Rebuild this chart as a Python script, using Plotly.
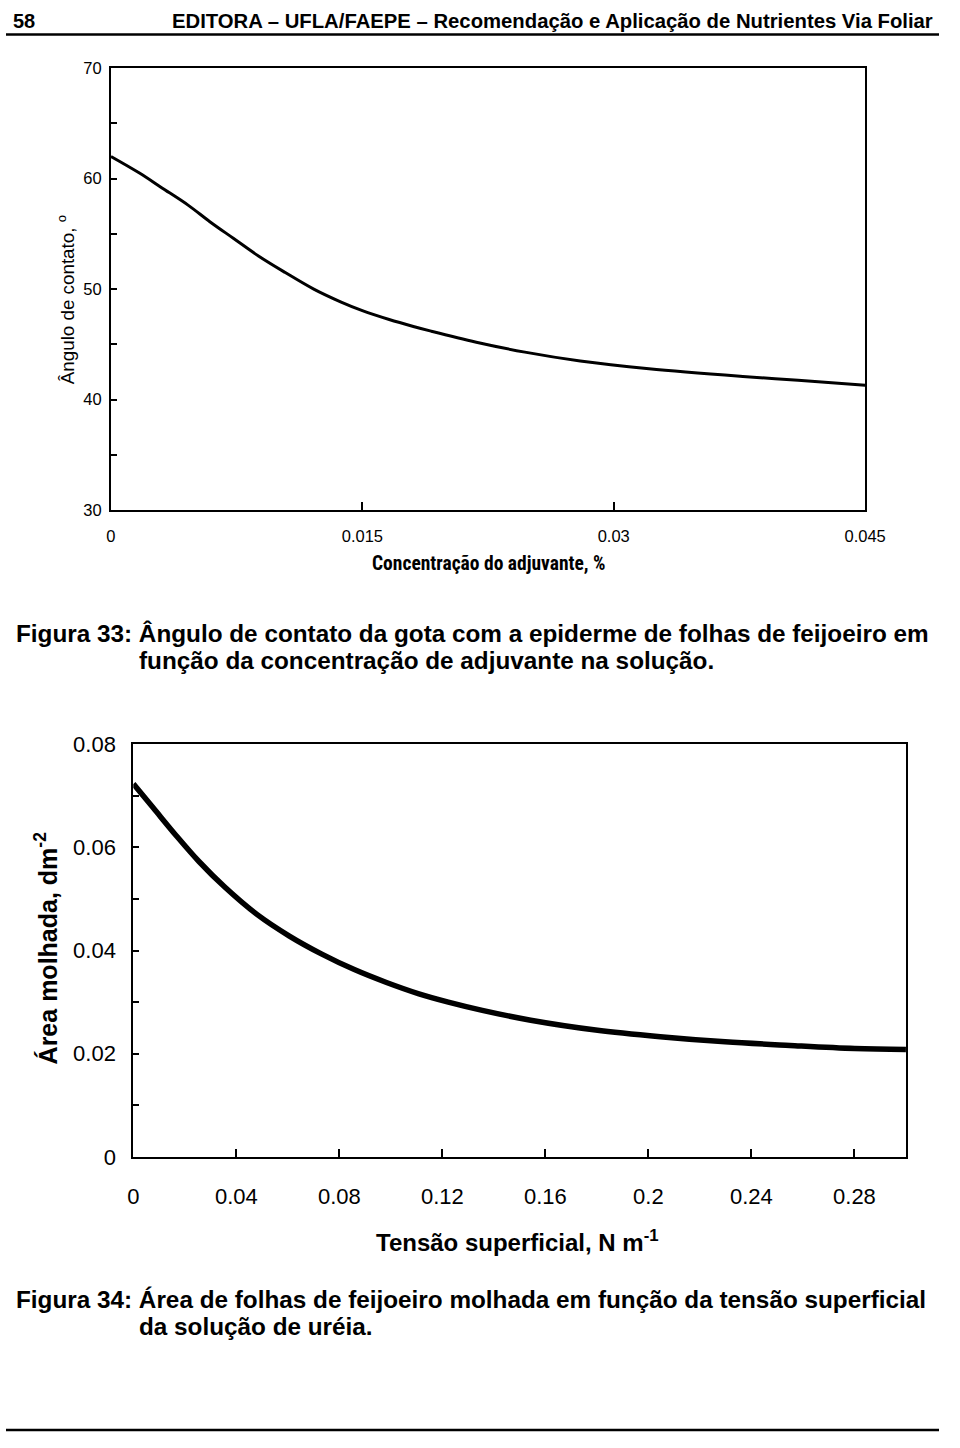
import plotly.graph_objects as go

W, H = 960, 1448

# ---- Figura 33 data ----
conc = [0, 0.0017, 0.0030, 0.0046, 0.0059, 0.0073, 0.0088, 0.0104, 0.0121, 0.0137,
        0.0150, 0.0166, 0.0181, 0.0191, 0.0218, 0.0247, 0.0280, 0.0321, 0.0377, 0.0410, 0.0450]
angulo = [62.0, 60.5, 59.2, 57.6, 56.1, 54.6, 53.0, 51.5, 50.0, 48.85,
          48.05, 47.25, 46.6, 46.2, 45.2, 44.3, 43.5, 42.8, 42.1, 41.75, 41.3]
x1_ticks = [0, 0.015, 0.03, 0.045]
x1_labels = ["0", "0.015", "0.03", "0.045"]
y1_ticks = [30, 40, 50, 60, 70]

# ---- Figura 34 data ----
tensao = [0, 0.0078, 0.0166, 0.0254, 0.0355, 0.0480, 0.0606, 0.0732, 0.0858, 0.0983,
          0.1109, 0.1223, 0.1355, 0.1543, 0.1795, 0.2046, 0.2298, 0.2550, 0.2801, 0.3000]
area = [0.0723, 0.0676, 0.0623, 0.0573, 0.0523, 0.0470, 0.0428, 0.0393, 0.0363, 0.0338,
        0.0316, 0.0300, 0.0284, 0.0265, 0.0246, 0.0233, 0.0223, 0.0216, 0.0210, 0.0208]
x2_ticks = [0, 0.04, 0.08, 0.12, 0.16, 0.2, 0.24, 0.28]
x2_labels = ["0", "0.04", "0.08", "0.12", "0.16", "0.2", "0.24", "0.28"]
y2_ticks = [0, 0.02, 0.04, 0.06, 0.08]
y2_labels = ["0", "0.02", "0.04", "0.06", "0.08"]

NARROW = "Liberation Sans Narrow, Arial Narrow, Roboto Condensed, DejaVu Sans Condensed, sans-serif"
SANS = "Liberation Sans, Arial, sans-serif"


def px(x):
    return x / W


def py(y):
    return 1 - y / H


fig = go.Figure()
fig.add_trace(go.Scatter(x=conc, y=angulo, mode="lines", xaxis="x", yaxis="y",
                         line=dict(color="black", width=3, shape="spline", smoothing=1),
                         showlegend=False, hoverinfo="skip"))
fig.add_trace(go.Scatter(x=tensao, y=area, mode="lines", xaxis="x2", yaxis="y2",
                         line=dict(color="black", width=5.5, shape="spline", smoothing=1),
                         showlegend=False, hoverinfo="skip"))

axis_common = dict(showgrid=False, zeroline=False, showline=True, linecolor="black",
                   linewidth=2, mirror=True, ticks="inside", tickcolor="black",
                   tickwidth=2, fixedrange=True)

fig.update_layout(
    width=W, height=H, margin=dict(l=0, r=0, t=0, b=0),
    paper_bgcolor="white", plot_bgcolor="white", showlegend=False,
    xaxis=dict(axis_common, domain=[px(108), px(884)], range=[0, 0.045],
               tickvals=x1_ticks, ticktext=x1_labels, ticklen=8,
               ticklabelstandoff=10,
               tickfont=dict(family=SANS, size=16.5, color="black"), anchor="y"),
    yaxis=dict(axis_common, domain=[py(507), py(57)], range=[30, 70],
               tickvals=y1_ticks, ticklen=6, ticklabelstandoff=4,
               minor=dict(dtick=5, ticks="inside", ticklen=6, tickcolor="black", tickwidth=2),
               tickfont=dict(family=SANS, size=16.5, color="black"), anchor="x"),
    xaxis2=dict(axis_common, domain=[px(131), px(926)], range=[0, 0.3],
                tickvals=x2_ticks, ticktext=x2_labels, ticklen=8,
                ticklabelstandoff=19,
                tickfont=dict(family=SANS, size=22, color="black"), anchor="y2"),
    yaxis2=dict(axis_common, domain=[py(1165), py(745)], range=[0, 0.08],
                tickvals=y2_ticks, ticktext=y2_labels, ticklen=6, ticklabelstandoff=11,
                minor=dict(dtick=0.01, ticks="inside", ticklen=6, tickcolor="black", tickwidth=2),
                tickfont=dict(family=SANS, size=22, color="black"), anchor="x2"),
)

ann = []
# header
ann.append(dict(text="<b>58</b>", x=px(5), y=py(9), xanchor="left", yanchor="middle",
                font=dict(family=SANS, size=20, color="black")))
ann.append(dict(text="<b>EDITORA – UFLA/FAEPE – Recomendação e Aplicação de Nutrientes Via Foliar</b>",
                x=px(956), y=py(9), xanchor="right", yanchor="middle",
                font=dict(family=SANS, size=20.3, color="black")))
# top chart axis titles
ann.append(dict(text="<b>Concentração do adjuvante, %</b>", x=px(497), y=py(561),
                xanchor="center", yanchor="middle",
                font=dict(family=NARROW, size=19.5, color="black")))
ann.append(dict(text="Ângulo de contato, <sup>o</sup>", x=px(62), y=py(293), textangle=-90,
                xanchor="center", yanchor="middle",
                font=dict(family=SANS, size=18.8, color="black")))
# caption 33
ann.append(dict(text="<b>Figura 33: Ângulo de contato da gota com a epiderme de folhas de feijoeiro em</b>",
                x=px(8), y=py(632), xanchor="left", yanchor="middle",
                font=dict(family=SANS, size=24.3, color="black")))
ann.append(dict(text="<b>função da concentração de adjuvante na solução.</b>",
                x=px(135), y=py(660), xanchor="left", yanchor="middle",
                font=dict(family=SANS, size=24.3, color="black")))
# bottom chart axis titles
ann.append(dict(text="<b>Tensão superficial, N m<sup>-1</sup></b>", x=px(526), y=py(1251),
                xanchor="center", yanchor="middle",
                font=dict(family=SANS, size=24, color="black")))
ann.append(dict(text="<b>Área molhada, dm<sup>-2</sup></b>", x=px(41), y=py(952), textangle=-90,
                xanchor="center", yanchor="middle",
                font=dict(family=SANS, size=25, color="black")))
# caption 34
ann.append(dict(text="<b>Figura 34: Área de folhas de feijoeiro molhada em função da tensão superficial</b>",
                x=px(8), y=py(1310), xanchor="left", yanchor="middle",
                font=dict(family=SANS, size=24.3, color="black")))
ann.append(dict(text="<b>da solução de uréia.</b>",
                x=px(135), y=py(1338), xanchor="left", yanchor="middle",
                font=dict(family=SANS, size=24.3, color="black")))

for a in ann:
    a.update(xref="paper", yref="paper", showarrow=False)
fig.update_layout(annotations=ann)

fig.update_layout(shapes=[
    dict(type="line", xref="paper", yref="paper", x0=0, x1=1, y0=py(23), y1=py(23),
         line=dict(color="black", width=2.5)),
    dict(type="line", xref="paper", yref="paper", x0=0, x1=1, y0=py(1443), y1=py(1443),
         line=dict(color="black", width=2.5)),
])

fig.write_html("out.html")
